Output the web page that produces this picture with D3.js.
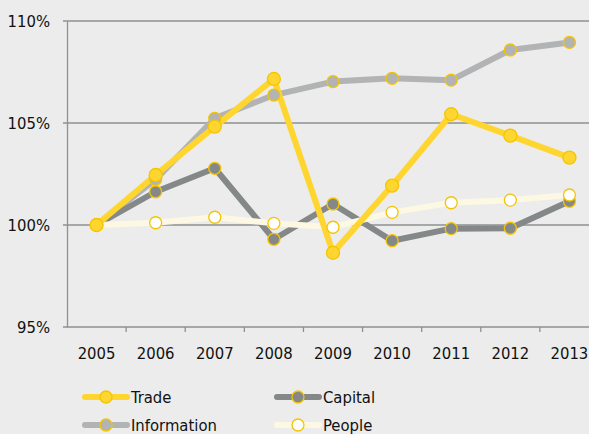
<!DOCTYPE html>
<html>
<head>
<meta charset="utf-8">
<script src="https://cdn.jsdelivr.net/npm/d3@7"></script>
<style>
  body { margin: 0; background: #ebeceb; }
  svg text { font-family: "DejaVu Sans Condensed", "Liberation Sans Narrow", sans-serif; fill: #111; }
</style>
</head>
<body>
<div id="chart"></div>
<script>
var years = [2005, 2006, 2007, 2008, 2009, 2010, 2011, 2012, 2013];
var yTicks = [95, 100, 105, 110];

var trade = [100, 102.45, 104.82, 107.16, 98.64, 101.93, 105.43, 104.38, 103.3];
var information = [100, 102.24, 105.23, 106.37, 107.03, 107.19, 107.1, 108.58, 108.95];
var capital = [100, 101.63, 102.78, 99.3, 101.03, 99.23, 99.82, 99.84, 101.16];
var people = [100, 100.11, 100.38, 100.08, 99.89, 100.62, 101.09, 101.22, 101.47];

var w = 589,
    h = 434;

//series in drawing order (bottom first)
var series = [
    { name: "Information", values: information, line: "#b1b3b4", fill: "#b1b3b4" },
    { name: "Capital", values: capital, line: "#858888", fill: "#858888" },
    { name: "People", values: people, line: "#fdf8e3", fill: "#ffffff" },
    { name: "Trade", values: trade, line: "#ffd530", fill: "#ffd530" }
];
var dotStroke = "#f5c400";

var svg = d3.select("#chart")
    .append("svg")
    .attr("width", w)
    .attr("height", h);

svg.append("rect")
    .attr("width", w)
    .attr("height", h)
    .attr("fill", "#ebeceb");

var xBand = d3.scaleBand()
    .domain(years)
    .range([67, 599]);

var x = function (yr) { return xBand(yr) + xBand.bandwidth() / 2; };

var y = d3.scaleLinear()
    .domain([95, 110])
    .range([327, 21]);

//horizontal gridlines
svg.append("g")
    .selectAll("line")
    .data(yTicks)
    .enter().append("line")
    .attr("x1", 63)
    .attr("x2", w)
    .attr("y1", function (d) { return y(d); })
    .attr("y2", function (d) { return y(d); })
    .attr("stroke", "#8f9090")
    .attr("stroke-width", 1.3);

//y axis
var yAxis = d3.axisLeft(y)
    .tickValues(yTicks)
    .tickSize(0)
    .tickPadding(17)
    .tickFormat(function (d) { return d + "%"; });

var gY = svg.append("g")
    .attr("transform", "translate(67,0)")
    .call(yAxis);
gY.select(".domain").attr("stroke", "#8f9090").attr("stroke-width", 1.3);
gY.selectAll("text").style("font-size", "16.5px").attr("dy", "0.35em");

//x axis ticks at band boundaries
svg.append("g")
    .selectAll("line")
    .data(years.slice(1))
    .enter().append("line")
    .attr("x1", function (d) { return xBand(d); })
    .attr("x2", function (d) { return xBand(d); })
    .attr("y1", y(95))
    .attr("y2", y(95) + 5)
    .attr("stroke", "#8f9090")
    .attr("stroke-width", 1.3);

svg.append("g")
    .selectAll("text")
    .data(years)
    .enter().append("text")
    .attr("x", function (d) { return x(d); })
    .attr("y", 359)
    .attr("text-anchor", "middle")
    .style("font-size", "16.5px")
    .text(function (d) { return d; });

//lines
var line = d3.line()
    .x(function (d, i) { return x(years[i]); })
    .y(function (d) { return y(d); });

svg.append("g")
    .selectAll("path")
    .data(series)
    .enter().append("path")
    .attr("d", function (d) { return line(d.values); })
    .attr("fill", "none")
    .attr("stroke", function (d) { return d.line; })
    .attr("stroke-width", 6)
    .attr("stroke-linejoin", "round");

//dots
series.forEach(function (s) {
    svg.append("g")
        .selectAll("circle")
        .data(s.values)
        .enter().append("circle")
        .attr("cx", function (d, i) { return x(years[i]); })
        .attr("cy", function (d) { return y(d); })
        .attr("r", s.name == "Trade" ? 6.5 : 6)
        .attr("fill", s.fill)
        .attr("stroke", dotStroke)
        .attr("stroke-width", 1.3);
});

//legend
var legendItems = [
    { s: series[3], x: 85, y: 397 },
    { s: series[1], x: 277, y: 397 },
    { s: series[0], x: 85, y: 425 },
    { s: series[2], x: 277, y: 425 }
];

var legend = svg.append("g")
    .selectAll("g")
    .data(legendItems)
    .enter().append("g")
    .attr("transform", function (d) { return "translate(" + d.x + "," + d.y + ")"; });

legend.append("line")
    .attr("x1", 0)
    .attr("x2", 42)
    .attr("y1", 0)
    .attr("y2", 0)
    .attr("stroke", function (d) { return d.s.line; })
    .attr("stroke-width", 6)
    .attr("stroke-linecap", "round");

legend.append("circle")
    .attr("cx", 21)
    .attr("cy", 0)
    .attr("r", 6)
    .attr("fill", function (d) { return d.s.fill; })
    .attr("stroke", dotStroke)
    .attr("stroke-width", 1.3);

legend.append("text")
    .attr("x", 46)
    .attr("y", 0)
    .attr("dy", "0.35em")
    .style("font-size", "16.5px")
    .text(function (d) { return d.s.name; });
</script>
</body>
</html>
